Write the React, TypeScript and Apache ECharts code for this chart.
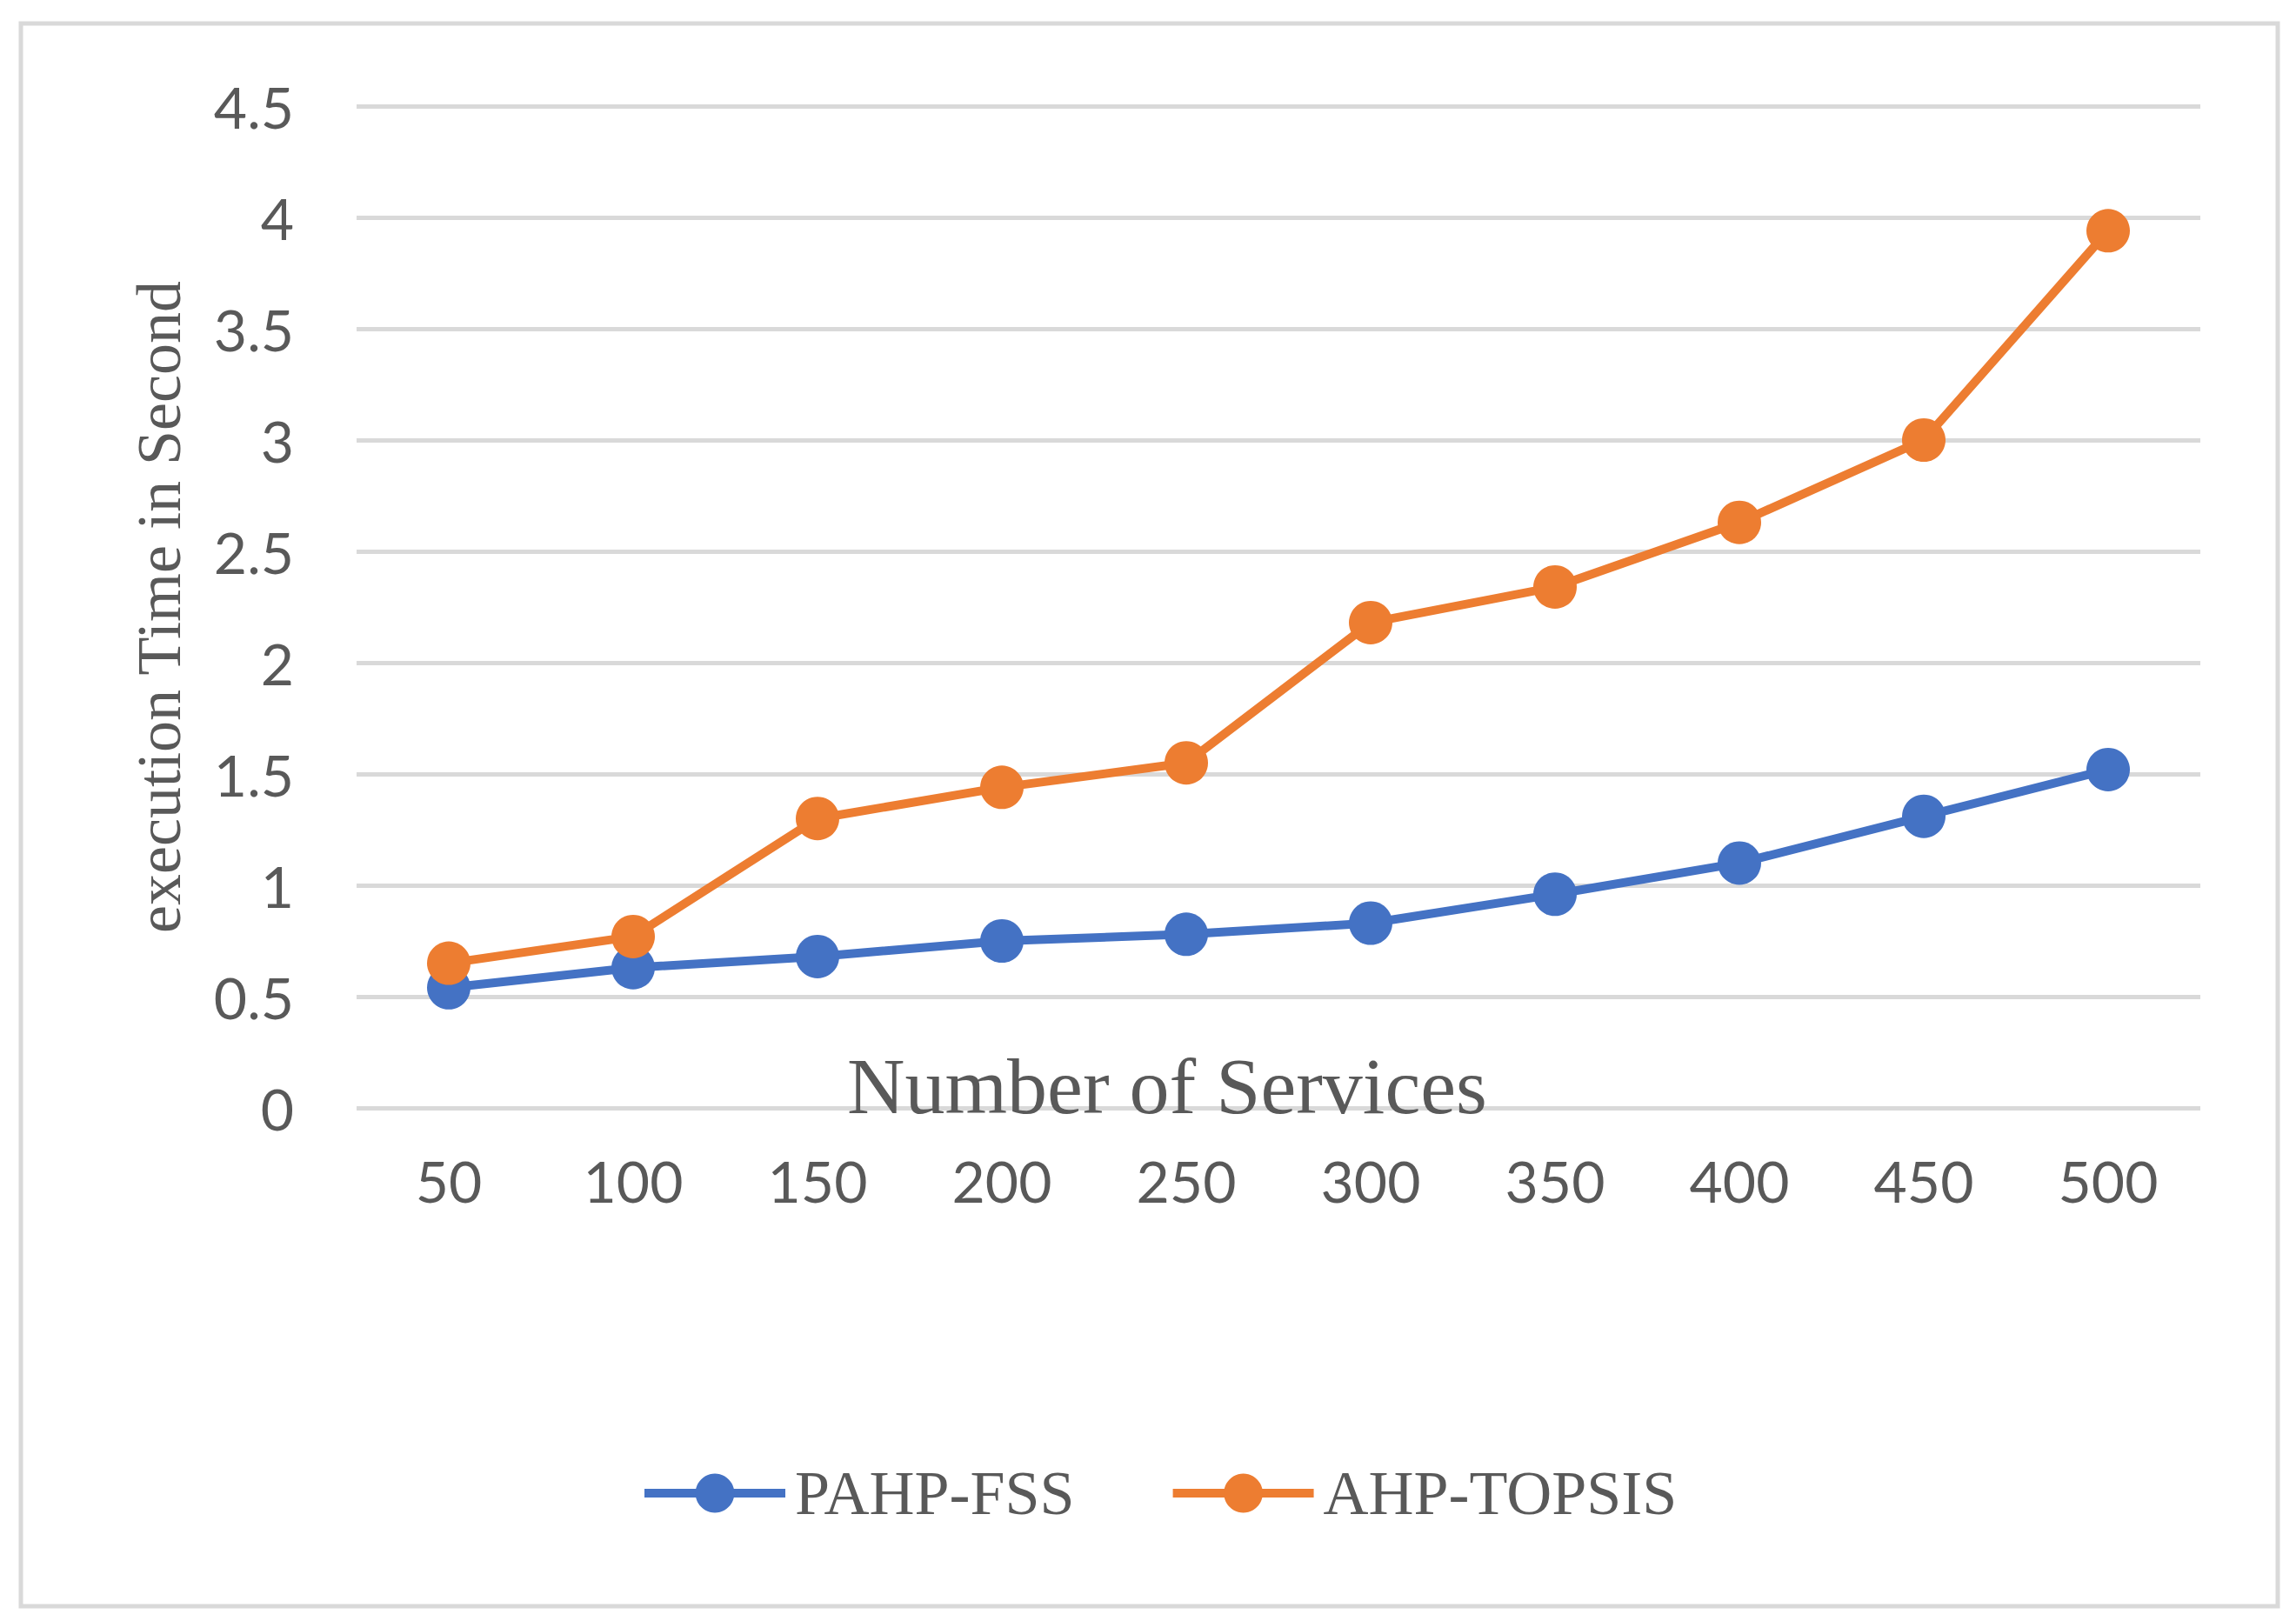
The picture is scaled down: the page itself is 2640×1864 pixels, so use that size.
import React, { useEffect, useRef } from "react";
import * as echarts from "echarts";

const categories = ["50", "100", "150", "200", "250", "300", "350", "400", "450", "500"];
const pahpFss = [0.54, 0.63, 0.68, 0.75, 0.78, 0.83, 0.96, 1.1, 1.31, 1.52];
const ahpTopsis = [0.65, 0.77, 1.3, 1.44, 1.55, 2.18, 2.34, 2.63, 3.0, 3.94];
const seriesNames = ["PAHP-FSS", "AHP-TOPSIS"];
const xTitle = "Number of Services";
const yTitle = "execution Time in Second";

const BLUE = "#4472C4";
const ORANGE = "#ED7D31";
const GRID = "#D9D9D9";
const TEXT = "#595959";
const SANS = "Lato";
const SERIF = "Liberation Serif";

export default function App() {
  const ref = useRef<HTMLDivElement>(null);
  useEffect(() => {
    if (!ref.current) return;
    const chart = echarts.init(ref.current, null, { renderer: "svg" });
    chart.setOption({
      animation: false,
      backgroundColor: "#ffffff",
      graphic: [
        {
          type: "rect",
          shape: { x: 24, y: 27, width: 2595, height: 1820 },
          style: { fill: "none", stroke: GRID, lineWidth: 5 },
          silent: true,
        },
      ],
      grid: { left: 410, right: 110, top: 122, bottom: 590, containLabel: false },
      legend: {
        data: seriesNames,
        left: 731,
        top: 1676,
        itemWidth: 162,
        itemHeight: 56,
        itemGap: 108,
        lineStyle: { width: 10 },
        textStyle: {
          fontFamily: SERIF,
          fontSize: 72,
          color: TEXT,
          padding: [0, 0, 0, 6],
        },
      },
      xAxis: {
        type: "category",
        data: categories,
        boundaryGap: true,
        axisLine: { show: false },
        axisTick: { show: false },
        axisLabel: { fontFamily: SANS, fontSize: 66, color: TEXT, margin: 50 },
        name: xTitle,
        nameLocation: "middle",
        nameGap: -71,
        nameMoveOverlap: false,
        nameTextStyle: {
          fontFamily: SERIF,
          fontSize: 92,
          color: TEXT,
          padding: [0, 256, 0, 0],
        },
      },
      yAxis: {
        type: "value",
        min: 0,
        max: 4.5,
        interval: 0.5,
        axisLine: { show: false },
        axisTick: { show: false },
        axisLabel: { fontFamily: SANS, fontSize: 66, color: TEXT, margin: 72 },
        splitLine: { lineStyle: { color: GRID, width: 5 } },
        name: yTitle,
        nameLocation: "middle",
        nameGap: 191,
        nameRotate: 90,
        nameTextStyle: { fontFamily: SERIF, fontSize: 72, color: TEXT },
      },
      series: [
        {
          name: seriesNames[0],
          type: "line",
          data: pahpFss,
          symbol: "circle",
          symbolSize: 50,
          itemStyle: { color: BLUE },
          lineStyle: { color: BLUE, width: 10 },
        },
        {
          name: seriesNames[1],
          type: "line",
          data: ahpTopsis,
          symbol: "circle",
          symbolSize: 50,
          itemStyle: { color: ORANGE },
          lineStyle: { color: ORANGE, width: 10 },
        },
      ],
    });
    return () => chart.dispose();
  }, []);
  return (
    <div
      ref={ref}
      style={{ position: "fixed", left: 0, top: 0, width: 2640, height: 1864, background: "#fff" }}
    />
  );
}
